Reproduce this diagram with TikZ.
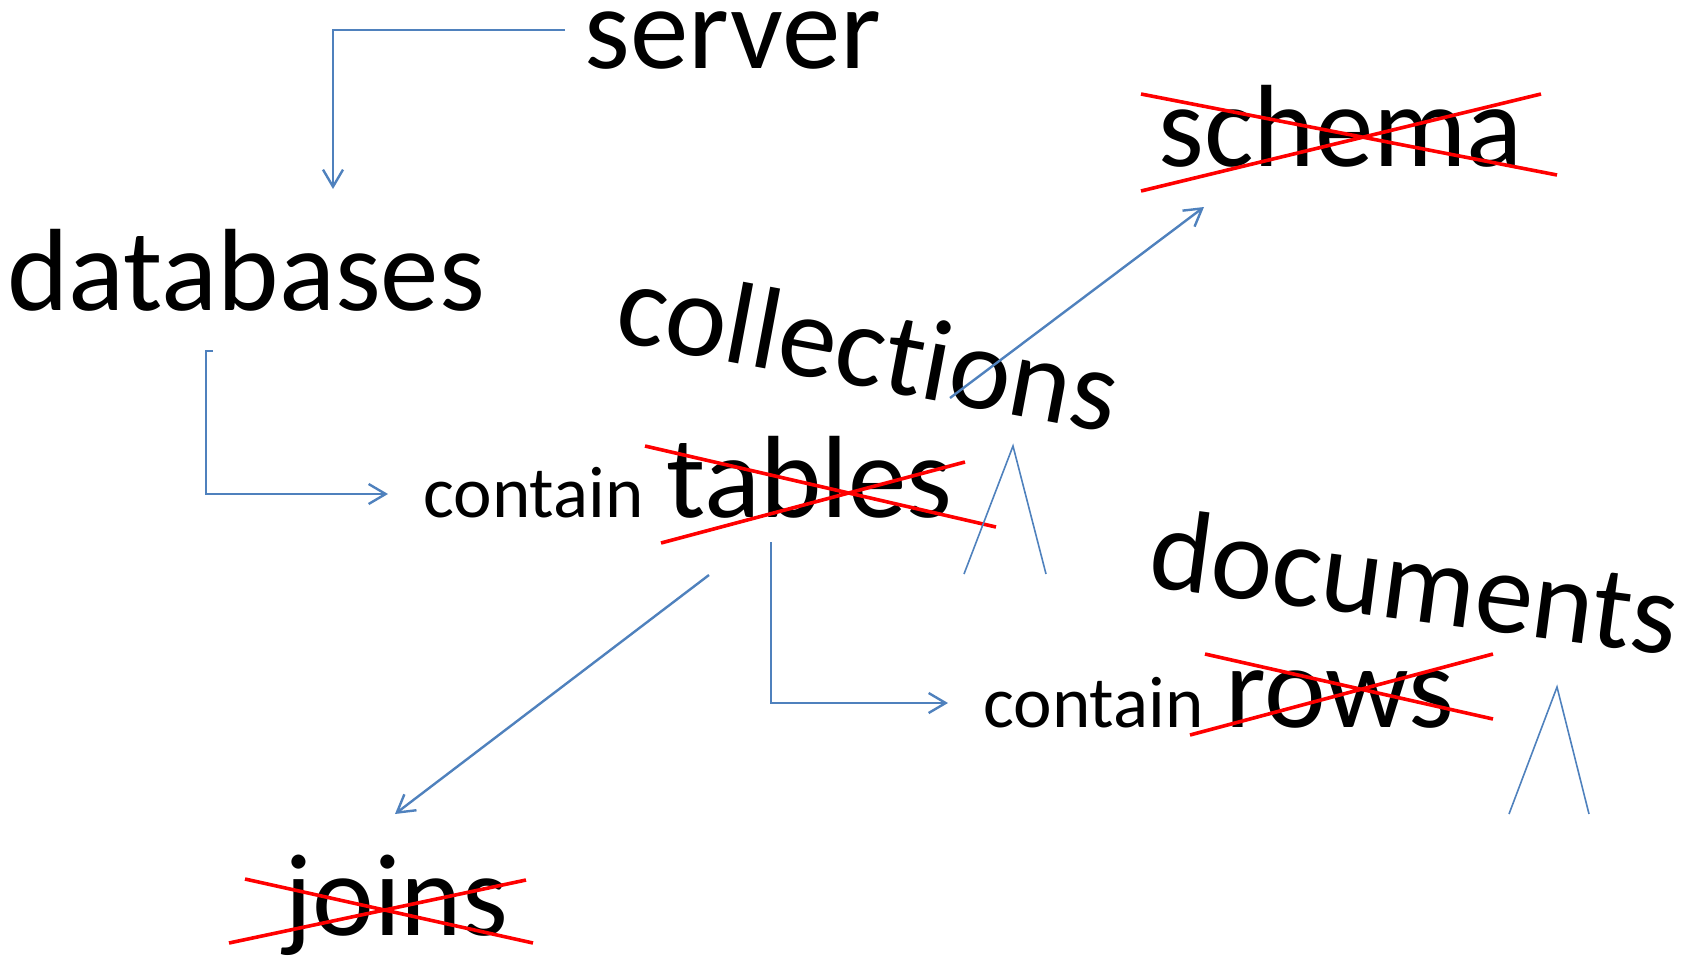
\documentclass[tikz,border=0pt]{standalone}
\usepackage{fontspec}
\setmainfont{Carlito}[Ligatures=NoCommon]
\usepackage{tikz}
\usetikzlibrary{arrows.meta}

\definecolor{linkblue}{RGB}{79,129,189}

\begin{document}
\begin{tikzpicture}[x=0.5pt,y=-0.5pt,>={Straight Barb[length=8.5pt,width=10pt]}]
        \tikzstyle{word}=[inner sep=0pt,anchor=base west,text=black,font=\fontsize{58.5}{60}\selectfont]
        \tikzstyle{small}=[word,font=\fontsize{36.5}{38}\selectfont]
        \tikzstyle{link}=[->,draw=linkblue,line width=1.2pt]
        \tikzstyle{cross}=[draw=red,line width=1.8pt]
        \tikzstyle{caret}=[draw=linkblue,line width=0.8pt]
        \useasboundingbox (0,0) rectangle (1697,959);
        \node[word]                  (srv)    at (584,68)   {server};
        \node[word]                  (db)     at (7,310)    {databases};
        \node[small]                 (cnt1)   at (423,517)  {contain};
        \node[word]                  (tbl)    at (666,517)  {tables};
        \node[word, rotate=-10.6]    (coll)   at (612,340)  {collections};
        \node[word]                  (schema) at (1158,166) {schema};
        \node[small]                 (cnt2)   at (983,727)  {contain};
        \node[word]                  (rows)   at (1225,727) {rows};
        \node[word, rotate=-7.5]     (docs)   at (1146,586) {documents};
        \node[word]                  (joins)  at (284,935)  {joins};
        % connector ends
        \coordinate (srvout)  at (565,30);
        \coordinate (dbin)    at (333,189);
        \coordinate (dbout)   at (213,351);
        \coordinate (cnt1in)  at (388,494);
        \coordinate (tblout)  at (771,542);
        \coordinate (cnt2in)  at (948,703);
        \coordinate (tblleft) at (709,575);
        \coordinate (joinsin) at (395,814);
        \coordinate (collout) at (950,398);
        \coordinate (schin)   at (1204,207);
        \draw[link] (srvout) -| (dbin);
        \draw[link] (dbout) -- ++(-7,0) |- (cnt1in);
        \draw[link] (tblout) |- (cnt2in);
        \draw[link] (tblleft) -- (joinsin);
        \draw[link] (collout) -- (schin);
        % struck out words
        \draw[cross] (1141,94) -- (1557,175) (1141,191) -- (1541,94);
        \draw[cross] (645,446) -- (996,527) (661,543) -- (965,462);
        \draw[cross] (1205,654) -- (1493,719) (1190,735) -- (1493,654);
        \draw[cross] (245,879) -- (533,943) (229,943) -- (526,880);
        % insert marks
        \draw[caret] (964,574) -- (1013,446) -- (1046,574);
        \draw[caret] (1509,814) -- (1557,687) -- (1589,814);
    \end{tikzpicture}
\end{document}
